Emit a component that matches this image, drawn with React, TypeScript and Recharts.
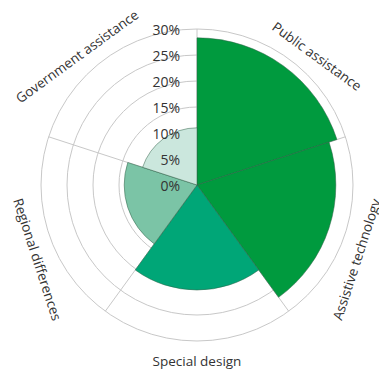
import React from "react";
import { RadialBarChart, RadialBar, PolarAngleAxis, PolarRadiusAxis, PolarGrid, Cell } from "recharts";

const categories = ["Public assistance", "Assistive technology", "Special design", "Regional differences", "Government assistance"];
const shares = [28.3, 26.7, 20.2, 14, 11];
const fills = ["#009a3e", "#009a3e", "#00a677", "#7bc4a6", "#cbe7dd"];
const radiusTicks = [0, 5, 10, 15, 20, 25, 30];

const data = categories.map((name, i) => ({ name, value: shares[i], fill: fills[i] }));

const CX = 197;
const CY = 185;
const R = 156;
const FONT = "'Open Sans', sans-serif";
const STEP = 360 / categories.length;

// sector borders, clockwise from 12 o'clock
const boundaries = categories.map((_, i) => 90 - i * STEP);

function AngleTick(props: any) {
  const { payload, index, cx, cy } = props;
  // compass angle of the band centre
  const theta = index * STEP + STEP / 2;
  // labels sit slightly toward the bottom in the original
  let shift = 0;
  if (theta > 1 && theta < 179) shift = 7;
  else if (theta > 181 && theta < 359) shift = -7;
  const t = ((theta + shift) * Math.PI) / 180;
  const r = 176;
  const x = cx + r * Math.sin(t);
  const y = cy - r * Math.cos(t);
  const rot = theta > 90 && theta < 270 ? theta - 180 : theta > 270 ? theta - 360 : theta;
  return (
    <text
      x={x}
      y={y}
      textAnchor="middle"
      dominantBaseline="central"
      transform={`rotate(${rot} ${x} ${y})`}
      fill="#333"
      fontSize={13.5}
      fontFamily={FONT}
    >
      {payload.value}
    </text>
  );
}

function RadiusTick(props: any) {
  const { x, y, payload } = props;
  return (
    <text x={x - 17} y={y} textAnchor="end" dominantBaseline="central" fill="#333" fontSize={14} fontFamily={FONT}>
      {payload.value}%
    </text>
  );
}

export default function App() {
  return (
    <div style={{ position: "absolute", left: 0, top: 0, width: 379, height: 371, background: "#fff" }}>
      <RadialBarChart
        width={379}
        height={371}
        data={data}
        layout="centric"
        cx={CX}
        cy={CY}
        innerRadius={0}
        outerRadius={R}
        startAngle={90 - STEP}
        endAngle={-270 - STEP}
        barCategoryGap={0}
        margin={{ top: 0, right: 0, bottom: 0, left: 0 }}
      >
        <PolarGrid gridType="circle" stroke="#c8c8c8" polarAngles={boundaries} />
        <PolarAngleAxis type="category" dataKey="name" tick={<AngleTick />} axisLine={false} tickLine={false} />
        <PolarRadiusAxis
          type="number"
          angle={90}
          domain={[0, 30]}
          ticks={radiusTicks}
          tick={<RadiusTick />}
          axisLine={false}
          tickLine={false}
        />
        <RadialBar dataKey="value" isAnimationActive={false} stroke="#2d5e44" strokeWidth={0.5}>
          {data.map((d, i) => (
            <Cell key={i} fill={d.fill} />
          ))}
        </RadialBar>
      </RadialBarChart>
    </div>
  );
}
